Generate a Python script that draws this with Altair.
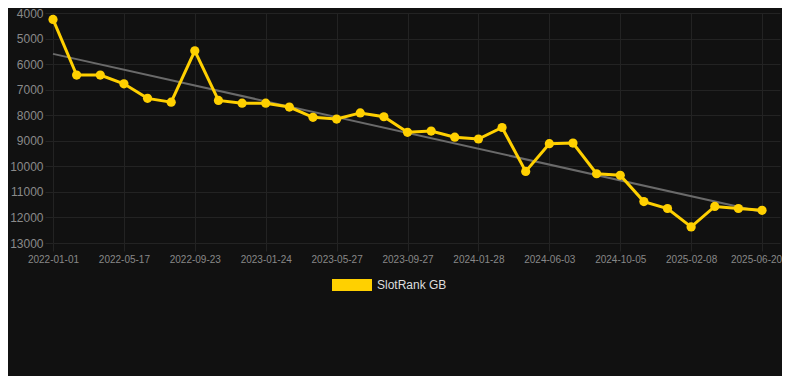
import altair as alt
import pandas as pd

tick_labels = ["2022-01-01", "2022-05-17", "2022-09-23", "2023-01-24", "2023-05-27",
               "2023-09-27", "2024-01-28", "2024-06-03", "2024-10-05", "2025-02-08", "2025-06-20"]
ranks = [4250, 6430, 6430, 6770, 7340, 7490, 5480, 7420, 7530, 7530,
         7680, 8080, 8150, 7910, 8060, 8670, 8620, 8860, 8930, 8480,
         10200, 9115, 9090, 10290, 10350, 11380, 11650, 12370, 11570, 11650, 11720]
series_name = "SlotRank GB"

df = pd.DataFrame({"i": list(range(len(ranks))), "v": ranks, "s": [series_name] * len(ranks)})

label_js = "[" + ",".join(f"'{t}'" for t in tick_labels) + "]"

x = alt.X("i:Q", scale=alt.Scale(domain=[0, 30.76], nice=False, zero=False),
          axis=alt.Axis(values=list(range(0, 31, 3)), labelExpr=f"{label_js}[round(datum.value/3)]",
                        title=None, grid=True, gridColor="#232323", domain=False,
                        tickColor="#232323", tickSize=8, labelPadding=3,
                        labelOverlap=False, labelBound=False, labelFlush=False,
                        labelOffset={"condition": {"test": "datum.value == 30", "value": -6}, "value": 0},
                        labelColor="#888888", labelFontSize=10, labelFont="Liberation Sans"))
y = alt.Y("v:Q", scale=alt.Scale(domain=[4000, 13000], reverse=True, nice=False, zero=False),
          axis=alt.Axis(values=list(range(4000, 13001, 1000)), format="d", title=None, grid=True,
                        gridColor="#232323", domain=False, tickColor="#232323", tickSize=8,
                        labelPadding=2, labelColor="#8a8a8a", labelFontSize=12,
                        labelOverlap=False, labelBound=False, labelFlush=False,
                        labelFont="Liberation Sans"))

base = alt.Chart(df)

trend = base.transform_regression("i", "v", method="linear").mark_line(
    color="#6a6a6a", strokeWidth=2).encode(x=x, y=y)

line = base.mark_line(color="#FFD000", strokeWidth=3).encode(x=x, y=y)

pts = base.mark_point(filled=True, opacity=1, size=85).encode(
    x=x, y=y,
    color=alt.Color("s:N", scale=alt.Scale(domain=[series_name], range=["#FFD000"]),
                    legend=alt.Legend(title=None, orient="none", legendX=279, legendY=252,
                                      symbolType="M-1,-0.3L1,-0.3L1,0.3L-1,0.3Z",
                                      symbolSize=1600, symbolStrokeWidth=0,
                                      labelColor="#dddddd", labelFontSize=12,
                                      labelFont="Liberation Sans", labelOffset=5)))

chart = alt.layer(trend, line, pts).properties(
    width=727, height=230, background="#111111",
    padding={"left": 45, "top": 5, "right": 2, "bottom": 133},
    autosize=alt.AutoSizeParams(type="none"),
).configure_view(stroke=None)

chart.save("out.html", embed_options={"renderer": "svg", "actions": False})
